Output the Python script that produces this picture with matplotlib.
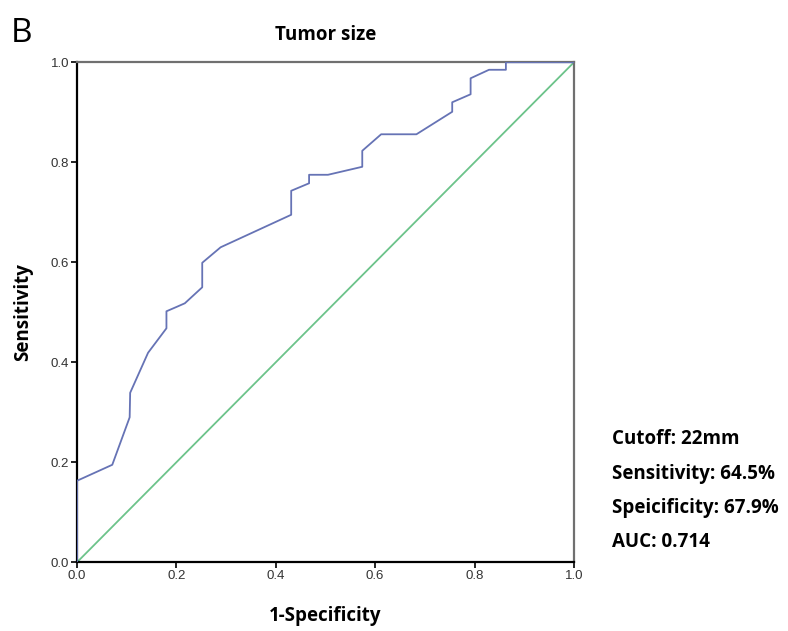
import numpy as np
import matplotlib.pyplot as plt

plt.rcParams['font.family'] = ['Open Sans', 'DejaVu Sans']

# ROC points (1-specificity, sensitivity)
fpr = [0.0, 0.0, 0.071, 0.106, 0.107, 0.143, 0.180, 0.180, 0.201, 0.217,
       0.252, 0.252, 0.289, 0.431, 0.431, 0.467, 0.467, 0.505, 0.574, 0.574,
       0.612, 0.683, 0.755, 0.755, 0.792, 0.792, 0.829, 0.863, 0.863, 1.0]
tpr = [0.0, 0.163, 0.195, 0.290, 0.339, 0.419, 0.468, 0.502, 0.511, 0.518,
       0.550, 0.599, 0.630, 0.695, 0.743, 0.758, 0.775, 0.775, 0.791, 0.823,
       0.856, 0.856, 0.901, 0.920, 0.936, 0.968, 0.985, 0.985, 1.0, 1.0]
ticks = [0.0, 0.2, 0.4, 0.6, 0.8, 1.0]
stats = ["Cutoff: 22mm", "Sensitivity: 64.5%", "Speicificity: 67.9%", "AUC: 0.714"]

fig = plt.figure(figsize=(7.88, 6.31), dpi=100)
ax = fig.add_axes([0.0977, 0.1089, 0.6307, 0.7924])

ax.plot([0, 1], [0, 1], color='#6cc38a', lw=1.3, zorder=2)
ax.plot(fpr, tpr, color='#6673b5', lw=1.3, zorder=3)

ax.set_xlim(0, 1)
ax.set_ylim(0, 1)
ax.set_xticks(ticks)
ax.set_yticks(ticks)
ax.set_xticklabels([f"{t:.1f}" for t in ticks], family='Liberation Sans')
ax.set_yticklabels([f"{t:.1f}" for t in ticks], family='Liberation Sans')
ax.tick_params(direction='out', length=4, width=1.2, labelsize=9.5,
               labelcolor='#333333', pad=1.5)

for side in ['left', 'bottom']:
    ax.spines[side].set_color('black')
    ax.spines[side].set_linewidth(1.6)
for side in ['top', 'right']:
    ax.spines[side].set_color('#707070')
    ax.spines[side].set_linewidth(1.6)

ax.set_xlabel('1-Specificity', fontsize=13.5, fontweight='bold', labelpad=17)
ax.set_ylabel('Sensitivity', fontsize=13.5, fontweight='bold', labelpad=13)
ax.set_title('Tumor size', fontsize=13.5, fontweight='bold', pad=16)

fig.text(0.014, 0.933, 'B', fontsize=24)

for i, s in enumerate(stats):
    fig.text(0.777, 0.304 - i * 0.0545, s, fontsize=13.5, fontweight='bold', va='center')

fig.savefig('out.png', dpi=100)
